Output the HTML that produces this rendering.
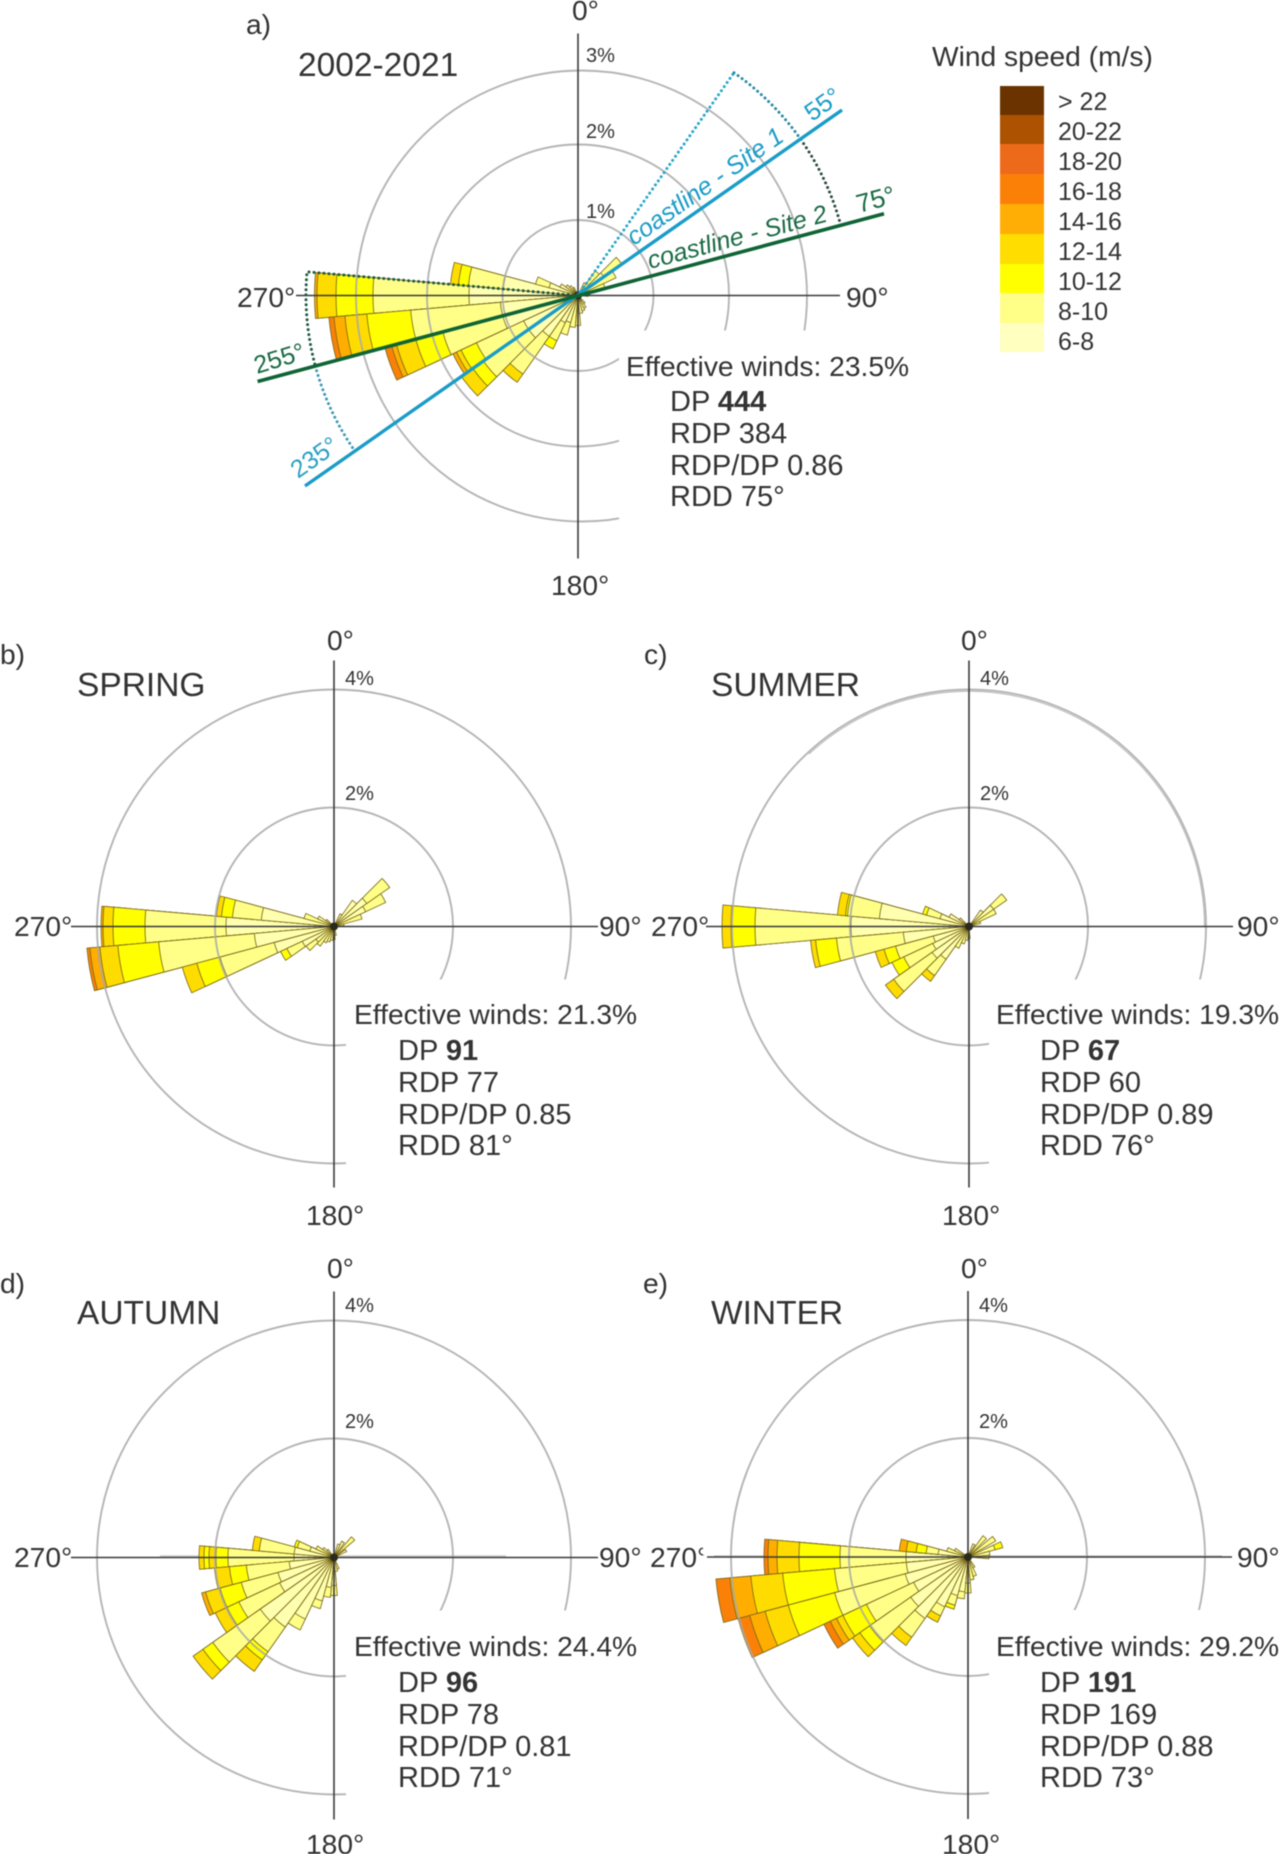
<!DOCTYPE html>
<html><head><meta charset="utf-8"><style>
html,body{margin:0;padding:0;background:#fff}
svg{display:block;filter:blur(.4px)}
text{font-family:"Liberation Sans",sans-serif;fill:#333;font-size:28.2px}
.a{fill:#ffffb0}.b{fill:#ffff88}.c{fill:#ffff00}.d{fill:#ffdc00}.e{fill:#ffae00}.f{fill:#fb8008}.g{fill:#ed6a1a}
.r{fill:none;stroke:#a8a8a8;stroke-width:1.9;opacity:.85}
.x{stroke:#3a3a3a;stroke-width:1.6}
.p{font-size:20px}.h{font-size:33.5px}.l{font-size:25px}.q{font-size:29px}
</style></head><body>
<svg width="1280" height="1854" viewBox="0 0 1280 1854" xmlns="http://www.w3.org/2000/svg">
<defs><path id="s" d="M0 0L-.08716-.99619A1 1 0 0 1 .08716-.99619Z" stroke="#7a6a18" stroke-width=".85" vector-effect="non-scaling-stroke"/></defs>
<rect width="1280" height="1854" fill="#fff"/>

<!-- PANEL A -->
<g transform="translate(578,295.5)">
<use href="#s" class="e" transform="rotate(270)scale(263.5)"/><use href="#s" class="d" transform="rotate(270)scale(261)"/><use href="#s" class="c" transform="rotate(270)scale(242)"/><use href="#s" class="b" transform="rotate(270)scale(205)"/><use href="#s" class="a" transform="rotate(270)scale(109)"/>
<use href="#s" class="f" transform="rotate(260)scale(250)"/><use href="#s" class="e" transform="rotate(260)scale(245)"/><use href="#s" class="d" transform="rotate(260)scale(234)"/><use href="#s" class="c" transform="rotate(260)scale(212)"/><use href="#s" class="b" transform="rotate(260)scale(168)"/><use href="#s" class="a" transform="rotate(260)scale(78)"/>
<use href="#s" class="f" transform="rotate(250)scale(200)"/><use href="#s" class="e" transform="rotate(250)scale(193)"/><use href="#s" class="d" transform="rotate(250)scale(188)"/><use href="#s" class="c" transform="rotate(250)scale(168)"/><use href="#s" class="b" transform="rotate(250)scale(140)"/><use href="#s" class="a" transform="rotate(250)scale(78)"/>
<use href="#s" class="e" transform="rotate(240)scale(138)"/><use href="#s" class="d" transform="rotate(240)scale(134)"/><use href="#s" class="c" transform="rotate(240)scale(129)"/><use href="#s" class="b" transform="rotate(240)scale(112)"/><use href="#s" class="a" transform="rotate(240)scale(60)"/>
<use href="#s" class="d" transform="rotate(230)scale(142)"/><use href="#s" class="c" transform="rotate(230)scale(128)"/><use href="#s" class="b" transform="rotate(230)scale(115)"/><use href="#s" class="a" transform="rotate(230)scale(60)"/>
<use href="#s" class="d" transform="rotate(220)scale(106)"/><use href="#s" class="b" transform="rotate(220)scale(96)"/><use href="#s" class="a" transform="rotate(220)scale(50)"/>
<use href="#s" class="c" transform="rotate(210)scale(59)"/><use href="#s" class="b" transform="rotate(210)scale(50)"/><use href="#s" class="a" transform="rotate(210)scale(30)"/>
<use href="#s" class="b" transform="rotate(200)scale(41)"/><use href="#s" class="a" transform="rotate(200)scale(28)"/>
<use href="#s" class="b" transform="rotate(190)scale(32)"/><use href="#s" class="b" transform="rotate(180)scale(30)"/><use href="#s" class="a" transform="rotate(170)scale(18)"/><use href="#s" class="a" transform="rotate(160)scale(16)"/><use href="#s" class="a" transform="rotate(150)scale(14)"/><use href="#s" class="a" transform="rotate(140)scale(10)"/>
<use href="#s" class="d" transform="rotate(280)scale(128)"/><use href="#s" class="c" transform="rotate(280)scale(120)"/><use href="#s" class="b" transform="rotate(280)scale(110)"/><use href="#s" class="a" transform="rotate(280)scale(75)"/>
<use href="#s" class="b" transform="rotate(290)scale(44)"/><use href="#s" class="a" transform="rotate(290)scale(30)"/><use href="#s" class="a" transform="rotate(300)scale(20)"/><use href="#s" class="a" transform="rotate(310)scale(15)"/><use href="#s" class="a" transform="rotate(320)scale(12)"/><use href="#s" class="a" transform="rotate(330)scale(9)"/>
<use href="#s" class="b" transform="rotate(50)scale(54)"/><use href="#s" class="a" transform="rotate(50)scale(32)"/><use href="#s" class="b" transform="rotate(60)scale(42)"/><use href="#s" class="b" transform="rotate(40)scale(30)"/><use href="#s" class="b" transform="rotate(70)scale(28)"/><use href="#s" class="a" transform="rotate(30)scale(14)"/><use href="#s" class="a" transform="rotate(80)scale(12)"/><use href="#s" class="a" transform="rotate(90)scale(10)"/>
<circle class="r" r="75.5"/><circle class="r" r="151"/><circle class="r" cx="3.5" cy=".5" r="225.5"/>
<rect x="41" y="35" width="262" height="210" fill="#fff"/>
<line class="x" x1="0" y1="-262" x2="0" y2="263"/><line class="x" x1="-282" y1="0" x2="262" y2="0"/>
<circle r="4" fill="#2a2a1a"/>
</g>
<g fill="none" stroke-dasharray="0 5" stroke-width="3" stroke-linecap="round">
<path d="M578 295.5L734 72.7" stroke="#2aa5c8"/>
<path d="M734 72.7A272 272 0 0 1 800.8 139.5" stroke="#2a8aa4"/>
<path d="M800.8 139.5A272 272 0 0 1 840.7 225.1" stroke="#2c4a3e"/>
<path d="M578 295.5L307 271.8A272 272 0 0 0 315.3 365.9" stroke="#1f5a40"/>
<path d="M315.3 365.9A272 272 0 0 0 355.2 451.5" stroke="#3f9ab4"/>
</g>
<line x1="305" y1="486" x2="842" y2="110" stroke="#1a9cc8" stroke-width="3.4"/>
<line x1="257.6" y1="381.5" x2="884" y2="213.7" stroke="#0f6436" stroke-width="3.6"/>
<text transform="translate(634,246)rotate(-35)" style="font-size:25px;font-style:italic;fill:#1a9cc8">coastline - Site 1</text>
<text transform="translate(650,269)rotate(-15)" style="font-size:25px;font-style:italic;fill:#1a6a44">coastline - Site 2</text>
<text transform="translate(812,122)rotate(-35)" style="font-size:25px;fill:#1a9cc8">55°</text>
<text transform="translate(859,213)rotate(-15)" style="font-size:26px;fill:#1a6a44">75°</text>
<text transform="translate(257,374)rotate(-17)" style="font-size:25px;fill:#1a6a44">255°</text>
<text transform="translate(298,479)rotate(-35)" style="font-size:25px;fill:#2aa0c4">235°</text>
<text x="246" y="34">a)</text><text class="h" x="298" y="76">2002-2021</text>
<text x="572" y="20">0°</text><text class="p" x="586" y="62">3%</text><text class="p" x="586" y="138">2%</text><text class="p" x="586" y="218">1%</text>
<text x="237" y="307">270°</text><text x="846" y="307">90°</text><text x="551" y="595">180°</text>
<text x="626" y="376">Effective winds: 23.5%</text>
<g class="g2"><text class="q" x="670" y="411">DP <tspan font-weight="bold">444</tspan></text><text class="q" x="670" y="443">RDP 384</text><text class="q" x="670" y="475">RDP/DP 0.86</text><text class="q" x="670" y="506">RDD 75°</text></g>

<!-- LEGEND -->
<text x="932" y="66">Wind speed (m/s)</text>
<rect x="1000" y="86" width="44" height="29" fill="#6b3300"/><rect x="1000" y="115" width="44" height="29" fill="#ad5200"/><rect x="1000" y="144" width="44" height="30" fill="#ed6a1a"/><rect x="1000" y="174" width="44" height="30" fill="#fb8008"/><rect x="1000" y="204" width="44" height="30" fill="#ffae05"/><rect x="1000" y="234" width="44" height="30" fill="#ffdd00"/><rect x="1000" y="264" width="44" height="29" fill="#ffff00"/><rect x="1000" y="293" width="44" height="30" fill="#ffff88"/><rect x="1000" y="323" width="44" height="29" fill="#ffffc0"/>
<text class="l" x="1058" y="110">&gt; 22</text><text class="l" x="1058" y="140">20-22</text><text class="l" x="1058" y="170">18-20</text><text class="l" x="1058" y="200">16-18</text><text class="l" x="1058" y="230">14-16</text><text class="l" x="1058" y="260">12-14</text><text class="l" x="1058" y="290">10-12</text><text class="l" x="1058" y="320">8-10</text><text class="l" x="1058" y="350">6-8</text>

<!-- PANEL B -->
<g transform="translate(334,926.5)">
<use href="#s" class="e" transform="rotate(270)scale(233)"/><use href="#s" class="d" transform="rotate(270)scale(231)"/><use href="#s" class="c" transform="rotate(270)scale(221)"/><use href="#s" class="b" transform="rotate(270)scale(189)"/><use href="#s" class="a" transform="rotate(270)scale(108)"/>
<use href="#s" class="f" transform="rotate(260)scale(248)"/><use href="#s" class="e" transform="rotate(260)scale(245)"/><use href="#s" class="d" transform="rotate(260)scale(235)"/><use href="#s" class="c" transform="rotate(260)scale(217)"/><use href="#s" class="b" transform="rotate(260)scale(176)"/><use href="#s" class="a" transform="rotate(260)scale(80)"/>
<use href="#s" class="d" transform="rotate(250)scale(157)"/><use href="#s" class="c" transform="rotate(250)scale(142)"/><use href="#s" class="b" transform="rotate(250)scale(118)"/><use href="#s" class="a" transform="rotate(250)scale(62)"/>
<use href="#s" class="c" transform="rotate(240)scale(59)"/><use href="#s" class="b" transform="rotate(240)scale(52)"/><use href="#s" class="a" transform="rotate(240)scale(35)"/>
<use href="#s" class="b" transform="rotate(230)scale(34)"/><use href="#s" class="a" transform="rotate(230)scale(22)"/><use href="#s" class="b" transform="rotate(220)scale(24)"/><use href="#s" class="a" transform="rotate(210)scale(18)"/><use href="#s" class="a" transform="rotate(200)scale(16)"/><use href="#s" class="a" transform="rotate(190)scale(14)"/><use href="#s" class="a" transform="rotate(180)scale(13)"/><use href="#s" class="a" transform="rotate(170)scale(9)"/>
<use href="#s" class="d" transform="rotate(280)scale(118)"/><use href="#s" class="c" transform="rotate(280)scale(113)"/><use href="#s" class="b" transform="rotate(280)scale(102)"/><use href="#s" class="a" transform="rotate(280)scale(73)"/>
<use href="#s" class="b" transform="rotate(290)scale(31)"/><use href="#s" class="a" transform="rotate(300)scale(18)"/><use href="#s" class="a" transform="rotate(310)scale(10)"/>
<use href="#s" class="b" transform="rotate(50)scale(68)"/><use href="#s" class="a" transform="rotate(50)scale(40)"/><use href="#s" class="b" transform="rotate(60)scale(57)"/><use href="#s" class="a" transform="rotate(60)scale(35)"/><use href="#s" class="a" transform="rotate(40)scale(32)"/><use href="#s" class="b" transform="rotate(70)scale(29)"/><use href="#s" class="a" transform="rotate(30)scale(14)"/><use href="#s" class="a" transform="rotate(80)scale(10)"/>
<circle class="r" r="119"/><circle class="r" r="237"/>
<rect x="12" y="53" width="260" height="200" fill="#fff"/>
<line class="x" x1="0" y1="-266" x2="0" y2="261"/><line class="x" x1="-263" y1="0" x2="264" y2="0"/><circle r="4" fill="#2a2a1a"/>
</g>
<text x="0" y="664">b)</text><text class="h" x="77" y="696">SPRING</text>
<text x="327" y="650">0°</text><text class="p" x="345" y="685">4%</text><text class="p" x="345" y="800">2%</text>
<text x="14" y="936">270°</text><text x="599" y="936">90°</text><text x="306" y="1225">180°</text>
<text x="354" y="1024">Effective winds: 21.3%</text>
<text class="q" x="398" y="1060">DP <tspan font-weight="bold">91</tspan></text><text class="q" x="398" y="1092">RDP 77</text><text class="q" x="398" y="1124">RDP/DP 0.85</text><text class="q" x="398" y="1155">RDD 81°</text>

<!-- PANEL C -->
<g transform="translate(969,926.5)">
<use href="#s" class="d" transform="rotate(270)scale(247)"/><use href="#s" class="c" transform="rotate(270)scale(238)"/><use href="#s" class="b" transform="rotate(270)scale(214)"/><use href="#s" class="a" transform="rotate(270)scale(118)"/>
<use href="#s" class="d" transform="rotate(280)scale(132)"/><use href="#s" class="c" transform="rotate(280)scale(124)"/><use href="#s" class="b" transform="rotate(280)scale(122)"/><use href="#s" class="a" transform="rotate(280)scale(90)"/>
<use href="#s" class="d" transform="rotate(260)scale(159)"/><use href="#s" class="c" transform="rotate(260)scale(154)"/><use href="#s" class="b" transform="rotate(260)scale(133)"/><use href="#s" class="a" transform="rotate(260)scale(66)"/>
<use href="#s" class="d" transform="rotate(250)scale(97)"/><use href="#s" class="c" transform="rotate(250)scale(88)"/><use href="#s" class="b" transform="rotate(250)scale(76)"/><use href="#s" class="a" transform="rotate(250)scale(37)"/>
<use href="#s" class="c" transform="rotate(240)scale(85)"/><use href="#s" class="b" transform="rotate(240)scale(72)"/><use href="#s" class="a" transform="rotate(240)scale(40)"/>
<use href="#s" class="d" transform="rotate(230)scale(102)"/><use href="#s" class="b" transform="rotate(230)scale(92)"/><use href="#s" class="a" transform="rotate(230)scale(45)"/>
<use href="#s" class="d" transform="rotate(220)scale(67)"/><use href="#s" class="b" transform="rotate(220)scale(60)"/><use href="#s" class="a" transform="rotate(220)scale(40)"/>
<use href="#s" class="b" transform="rotate(210)scale(24)"/><use href="#s" class="a" transform="rotate(200)scale(18)"/><use href="#s" class="a" transform="rotate(190)scale(14)"/><use href="#s" class="a" transform="rotate(180)scale(12)"/>
<use href="#s" class="c" transform="rotate(290)scale(48)"/><use href="#s" class="b" transform="rotate(290)scale(44)"/><use href="#s" class="a" transform="rotate(290)scale(30)"/><use href="#s" class="a" transform="rotate(300)scale(22)"/><use href="#s" class="a" transform="rotate(310)scale(12)"/>
<use href="#s" class="b" transform="rotate(50)scale(46)"/><use href="#s" class="a" transform="rotate(50)scale(30)"/><use href="#s" class="b" transform="rotate(60)scale(30)"/><use href="#s" class="a" transform="rotate(40)scale(20)"/><use href="#s" class="a" transform="rotate(70)scale(12)"/>
<circle class="r" r="119"/><circle class="r" r="237"/>
<path class="r" d="M-160 -172.5A235.5 235.5 0 0 1 235.5 0" style="stroke-width:1"/>
<rect x="20" y="53" width="300" height="200" fill="#fff"/>
<line class="x" x1="0" y1="-266" x2="0" y2="261"/><line class="x" x1="-263" y1="0" x2="264" y2="0"/><circle r="4" fill="#2a2a1a"/>
</g>
<text x="644" y="664">c)</text><text class="h" x="711" y="696">SUMMER</text>
<text x="961" y="650">0°</text><text class="p" x="980" y="685">4%</text><text class="p" x="980" y="800">2%</text>
<text x="651" y="936">270°</text><text x="1237" y="936">90°</text><text x="942" y="1225">180°</text>
<text x="996" y="1024">Effective winds: 19.3%</text>
<text class="q" x="1040" y="1060">DP <tspan font-weight="bold">67</tspan></text><text class="q" x="1040" y="1092">RDP 60</text><text class="q" x="1040" y="1124">RDP/DP 0.89</text><text class="q" x="1040" y="1155">RDD 76°</text>

<!-- PANEL D -->
<line x1="160" y1="1556" x2="506" y2="1556" stroke="#c4c4c4" stroke-width="1.2"/>
<g transform="translate(334,1557.5)">
<use href="#s" class="d" transform="rotate(270)scale(135)"/><use href="#s" class="c" transform="rotate(270)scale(130)"/><use href="#s" class="d" transform="rotate(270)scale(125)"/><use href="#s" class="c" transform="rotate(270)scale(118)"/><use href="#s" class="b" transform="rotate(270)scale(106)"/><use href="#s" class="a" transform="rotate(270)scale(40)"/>
<use href="#s" class="d" transform="rotate(280)scale(82)"/><use href="#s" class="b" transform="rotate(280)scale(75)"/><use href="#s" class="a" transform="rotate(280)scale(40)"/>
<use href="#s" class="c" transform="rotate(290)scale(41)"/><use href="#s" class="b" transform="rotate(290)scale(38)"/><use href="#s" class="a" transform="rotate(290)scale(25)"/><use href="#s" class="b" transform="rotate(300)scale(20)"/><use href="#s" class="a" transform="rotate(310)scale(14)"/><use href="#s" class="a" transform="rotate(320)scale(10)"/>
<use href="#s" class="d" transform="rotate(260)scale(120)"/><use href="#s" class="c" transform="rotate(260)scale(105)"/><use href="#s" class="b" transform="rotate(260)scale(88)"/><use href="#s" class="a" transform="rotate(260)scale(45)"/>
<use href="#s" class="e" transform="rotate(250)scale(137)"/><use href="#s" class="d" transform="rotate(250)scale(133)"/><use href="#s" class="c" transform="rotate(250)scale(118)"/><use href="#s" class="b" transform="rotate(250)scale(96)"/><use href="#s" class="a" transform="rotate(250)scale(58)"/>
<use href="#s" class="d" transform="rotate(240)scale(131)"/><use href="#s" class="c" transform="rotate(240)scale(118)"/><use href="#s" class="b" transform="rotate(240)scale(105)"/><use href="#s" class="a" transform="rotate(240)scale(60)"/>
<use href="#s" class="d" transform="rotate(230)scale(172)"/><use href="#s" class="c" transform="rotate(230)scale(160)"/><use href="#s" class="b" transform="rotate(230)scale(148)"/><use href="#s" class="a" transform="rotate(230)scale(90)"/>
<use href="#s" class="d" transform="rotate(220)scale(139)"/><use href="#s" class="c" transform="rotate(220)scale(125)"/><use href="#s" class="b" transform="rotate(220)scale(115)"/><use href="#s" class="a" transform="rotate(220)scale(85)"/>
<use href="#s" class="b" transform="rotate(210)scale(80)"/><use href="#s" class="a" transform="rotate(210)scale(68)"/>
<use href="#s" class="b" transform="rotate(200)scale(53)"/><use href="#s" class="a" transform="rotate(200)scale(45)"/><use href="#s" class="b" transform="rotate(190)scale(40)"/><use href="#s" class="a" transform="rotate(190)scale(30)"/><use href="#s" class="b" transform="rotate(180)scale(38)"/><use href="#s" class="a" transform="rotate(180)scale(28)"/><use href="#s" class="a" transform="rotate(170)scale(14)"/><use href="#s" class="a" transform="rotate(160)scale(12)"/>
<use href="#s" class="b" transform="rotate(45)scale(27)"/><use href="#s" class="a" transform="rotate(30)scale(18)"/><use href="#s" class="a" transform="rotate(60)scale(14)"/><use href="#s" class="a" transform="rotate(20)scale(14)"/>
<circle class="r" r="119"/><circle class="r" r="237"/>
<rect x="12" y="53" width="260" height="200" fill="#fff"/>
<line class="x" x1="0" y1="-266" x2="0" y2="262"/><line class="x" x1="-263" y1="0" x2="264" y2="0"/><circle r="4" fill="#2a2a1a"/>
</g>
<text x="0" y="1293">d)</text><text class="h" x="77" y="1324">AUTUMN</text>
<text x="327" y="1278">0°</text><text class="p" x="345" y="1312">4%</text><text class="p" x="345" y="1428">2%</text>
<text x="14" y="1567">270°</text><text x="599" y="1567">90°</text><text x="306" y="1854">180°</text>
<text x="354" y="1656">Effective winds: 24.4%</text>
<text class="q" x="398" y="1692">DP <tspan font-weight="bold">96</tspan></text><text class="q" x="398" y="1724">RDP 78</text><text class="q" x="398" y="1756">RDP/DP 0.81</text><text class="q" x="398" y="1787">RDD 71°</text>

<!-- PANEL E -->
<line x1="714" y1="1556" x2="1222" y2="1556" stroke="#c4c4c4" stroke-width="1.2"/>
<g transform="translate(968,1557)">
<use href="#s" class="f" transform="rotate(270)scale(204)"/><use href="#s" class="e" transform="rotate(270)scale(200)"/><use href="#s" class="d" transform="rotate(270)scale(191)"/><use href="#s" class="c" transform="rotate(270)scale(169)"/><use href="#s" class="b" transform="rotate(270)scale(128)"/><use href="#s" class="a" transform="rotate(270)scale(62)"/>
<use href="#s" class="e" transform="rotate(280)scale(69)"/><use href="#s" class="d" transform="rotate(280)scale(62)"/><use href="#s" class="c" transform="rotate(280)scale(52)"/><use href="#s" class="b" transform="rotate(280)scale(42)"/><use href="#s" class="a" transform="rotate(280)scale(30)"/>
<use href="#s" class="b" transform="rotate(290)scale(22)"/><use href="#s" class="a" transform="rotate(300)scale(15)"/>
<use href="#s" class="f" transform="rotate(260)scale(253)"/><use href="#s" class="e" transform="rotate(260)scale(239)"/><use href="#s" class="d" transform="rotate(260)scale(218)"/><use href="#s" class="c" transform="rotate(260)scale(186)"/><use href="#s" class="b" transform="rotate(260)scale(134)"/><use href="#s" class="a" transform="rotate(260)scale(62)"/>
<use href="#s" class="f" transform="rotate(250)scale(238)"/><use href="#s" class="e" transform="rotate(250)scale(226)"/><use href="#s" class="d" transform="rotate(250)scale(210)"/><use href="#s" class="c" transform="rotate(250)scale(186)"/><use href="#s" class="b" transform="rotate(250)scale(138)"/><use href="#s" class="a" transform="rotate(250)scale(65)"/>
<use href="#s" class="f" transform="rotate(240)scale(159)"/><use href="#s" class="e" transform="rotate(240)scale(152)"/><use href="#s" class="d" transform="rotate(240)scale(145)"/><use href="#s" class="c" transform="rotate(240)scale(138)"/><use href="#s" class="b" transform="rotate(240)scale(112)"/><use href="#s" class="a" transform="rotate(240)scale(60)"/>
<use href="#s" class="d" transform="rotate(230)scale(141)"/><use href="#s" class="c" transform="rotate(230)scale(132)"/><use href="#s" class="b" transform="rotate(230)scale(120)"/><use href="#s" class="a" transform="rotate(230)scale(70)"/>
<use href="#s" class="d" transform="rotate(220)scale(108)"/><use href="#s" class="b" transform="rotate(220)scale(98)"/><use href="#s" class="a" transform="rotate(220)scale(75)"/>
<use href="#s" class="d" transform="rotate(210)scale(72)"/><use href="#s" class="b" transform="rotate(210)scale(65)"/><use href="#s" class="a" transform="rotate(210)scale(55)"/>
<use href="#s" class="c" transform="rotate(200)scale(54)"/><use href="#s" class="b" transform="rotate(200)scale(50)"/><use href="#s" class="a" transform="rotate(200)scale(40)"/>
<use href="#s" class="b" transform="rotate(190)scale(42)"/><use href="#s" class="a" transform="rotate(190)scale(35)"/><use href="#s" class="b" transform="rotate(180)scale(36)"/><use href="#s" class="a" transform="rotate(180)scale(26)"/><use href="#s" class="b" transform="rotate(170)scale(23)"/><use href="#s" class="b" transform="rotate(160)scale(20)"/><use href="#s" class="a" transform="rotate(150)scale(12)"/>
<use href="#s" class="c" transform="rotate(70)scale(36)"/><use href="#s" class="b" transform="rotate(70)scale(28)"/><use href="#s" class="b" transform="rotate(55)scale(32)"/><use href="#s" class="b" transform="rotate(40)scale(26)"/><use href="#s" class="a" transform="rotate(80)scale(22)"/><use href="#s" class="a" transform="rotate(90)scale(21)"/><use href="#s" class="a" transform="rotate(25)scale(14)"/>
<circle class="r" r="119"/><circle class="r" r="237"/>
<rect x="21" y="53" width="300" height="200" fill="#fff"/>
<line class="x" x1="0" y1="-266" x2="0" y2="262"/><line class="x" x1="-261" y1="0" x2="264" y2="0"/><circle r="4" fill="#2a2a1a"/>
</g>
<text x="643" y="1293">e)</text><text class="h" x="711" y="1324">WINTER</text>
<text x="961" y="1278">0°</text><text class="p" x="979" y="1312">4%</text><text class="p" x="979" y="1428">2%</text>
<text x="650" y="1567">270°</text><rect x="703" y="1538" width="4" height="17" fill="#fff"/><text x="1237" y="1567">90°</text><text x="942" y="1854">180°</text>
<text x="996" y="1656">Effective winds: 29.2%</text>
<text class="q" x="1040" y="1692">DP <tspan font-weight="bold">191</tspan></text><text class="q" x="1040" y="1724">RDP 169</text><text class="q" x="1040" y="1756">RDP/DP 0.88</text><text class="q" x="1040" y="1787">RDD 73°</text>
</svg>
</body></html>
